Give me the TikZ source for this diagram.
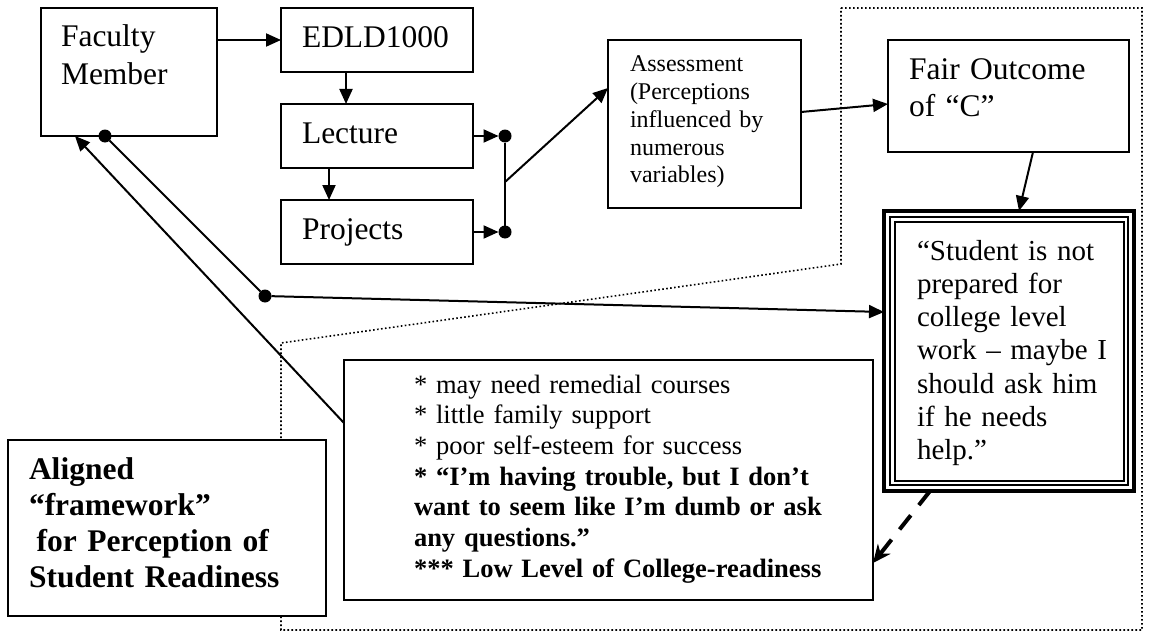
\documentclass[tikz,border=0pt]{standalone}
\usepackage{fontspec}
\setmainfont{Liberation Serif}
\usetikzlibrary{arrows.meta}
\begin{document}
\begin{tikzpicture}[x=1pt,y=-1pt,
  box/.style={draw, line width=2pt, fill=white, inner sep=0pt, outer sep=0pt},
  txt/.style={anchor=base west, inner sep=0pt, outer sep=0pt, align=left, text width=520pt},
  dot/.style={circle, fill=black, inner sep=0pt, outer sep=0pt, minimum size=13pt},
  conn/.style={line width=2pt},
  arr/.style={line width=2pt, -{Triangle[length=15pt,width=13pt]}},
  dashedarr/.style={line width=4pt, dash pattern=on 18pt off 13pt, -{Stealth[length=18pt,width=16pt]}},
  region/.style={line width=1.6pt, dash pattern=on 1.6pt off 2.4pt},
  bigfont/.style={font={\fontsize{31.5}{38}\selectfont}},
  fairfont/.style={font={\fontsize{31.5}{37}\selectfont}},
  stufont/.style={font={\fontsize{29}{33.3}\selectfont}},
  smallfont/.style={font={\fontsize{24}{27.7}\selectfont}},
  bulfont/.style={font={\fontsize{26.5}{30.7}\selectfont}},
  alifont/.style={font={\bfseries\fontsize{31.5}{36.3}\selectfont}}
]
\useasboundingbox (0,0) rectangle (1149,634);
\fill[white] (0,0) rectangle (1149,634);

% dotted region
\draw[region] (841,8) -- (1142,8) -- (1142,630) -- (281,630) -- (281,343) -- (841,264) -- cycle;

% boxes
\node[box, minimum width=176pt, minimum height=128pt] (fac) at (129,72) {};
\node[box, minimum width=192pt, minimum height=64pt] (edld) at (377,40) {};
\node[box, minimum width=192pt, minimum height=64pt] (lec) at (377,136) {};
\node[box, minimum width=192pt, minimum height=64pt] (proj) at (377,232) {};
\node[box, minimum width=193pt, minimum height=168pt] (asmt) at (704.5,124) {};
\node[box, minimum width=241pt, minimum height=112pt] (fair) at (1008.5,96) {};
\node[box, line width=4pt, minimum width=250pt, minimum height=280pt] (stu) at (1009,351) {};
\draw[line width=2.6pt] ([shift={(6pt,-6pt)}]stu.north west) rectangle ([shift={(-6pt,6pt)}]stu.south east);
\draw[line width=2pt] ([shift={(10.5pt,-10.5pt)}]stu.north west) rectangle ([shift={(-10.5pt,10.5pt)}]stu.south east);
\node[box, minimum width=529pt, minimum height=240pt] (bul) at (608.5,480) {};
\node[box, minimum width=318pt, minimum height=176pt] (ali) at (167,528) {};

% texts
\node[txt, bigfont] (facT) at (61,47) {Faculty\\Member};
\node[txt, bigfont] (edldT) at (302,48) {EDLD1000};
\node[txt, bigfont] (lecT) at (302,143) {Lecture};
\node[txt, bigfont] (projT) at (302,239) {Projects};
\node[txt, smallfont] (asmtT) at (630,72) {Assessment\\(Perceptions\\influenced by\\numerous\\variables)};
\node[txt, fairfont] (fairT) at (909,80) {Fair Outcome\\of “C”};
\node[txt, stufont] (stuT) at (917,260) {“Student is not\\prepared for\\college level\\work – maybe I\\should ask him\\if he needs\\help.”};
\node[txt, bulfont] (bulT) at (414,393) {* may need remedial courses\\{}* little family support\\{}* poor self-esteem for success\\{}\textbf{* “I’m having trouble, but I don’t}\\{}\textbf{want to seem like I’m dumb or ask}\\{}\textbf{any questions.”}\\{}\textbf{*** Low Level of College-readiness}};
\node[txt, alifont] (aliT) at (29,479) {Aligned\\“framework”\\\hspace*{7.7pt}for Perception of\\Student Readiness};

% dots and junction
\node[dot] (d1) at (505,136) {};
\node[dot] (d2) at (505,232) {};
\node[dot] (d3) at (105,136) {};
\node[dot] (d4) at (265,296) {};
\coordinate (j) at (505,182);

% connectors
\draw[arr] (fac.east |- edld.west) -- (edld.west);
\draw[arr] ([xshift=-31pt]edld.south) -- ([xshift=-31pt]lec.north);
\draw[arr] ([xshift=-48pt]lec.south) -- ([xshift=-48pt]proj.north);
\draw[arr] (lec.east) -- (d1);
\draw[arr] (proj.east) -- (d2);
\draw[conn] (d1) -- (d2);
\draw[arr] (j) -- ([yshift=36pt]asmt.west);
\draw[arr] ([yshift=12pt]asmt.east) -- ([yshift=-8pt]fair.west);
\draw[arr] ([xshift=24.5pt]fair.south) -- ([xshift=10pt]stu.north);
\draw[conn] (d3) -- (d4);
\draw[arr] (d4) -- ([yshift=39pt]stu.west);
\draw[arr] ([yshift=57pt]bul.west) -- ([xshift=-54pt]fac.south);
\draw[dashedarr] ([xshift=-79pt]stu.south) -- ([yshift=-83pt]bul.east);
\end{tikzpicture}
\end{document}
